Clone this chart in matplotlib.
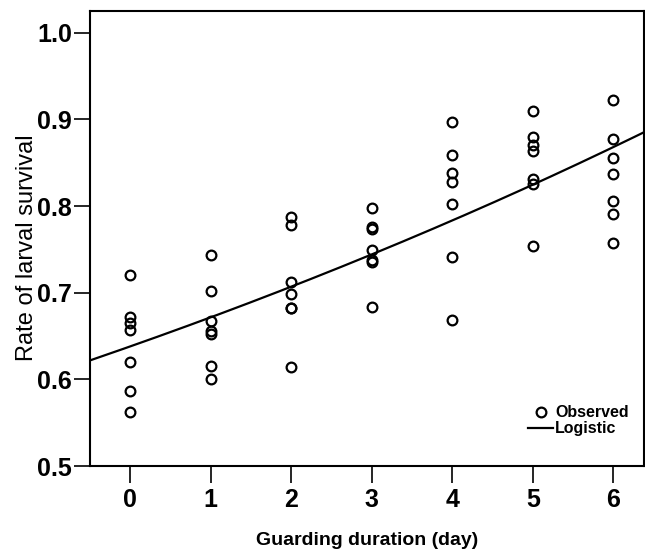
import numpy as np
import matplotlib.pyplot as plt
from matplotlib.lines import Line2D

plt.rcParams['font.family'] = ['Liberation Sans', 'DejaVu Sans']

# observed larval survival per guarding day
days = [0, 1, 2, 3, 4, 5, 6]
surv_day0 = [0.721, 0.672, 0.665, 0.657, 0.620, 0.587, 0.563]
surv_day1 = [0.744, 0.702, 0.667, 0.656, 0.652, 0.615, 0.601]
surv_day2 = [0.788, 0.778, 0.713, 0.699, 0.683, 0.682, 0.614]
surv_day3 = [0.798, 0.776, 0.774, 0.749, 0.738, 0.735, 0.684]
surv_day4 = [0.897, 0.859, 0.838, 0.828, 0.803, 0.741, 0.669]
surv_day5 = [0.910, 0.880, 0.871, 0.863, 0.831, 0.825, 0.754]
surv_day6 = [0.922, 0.877, 0.855, 0.837, 0.806, 0.791, 0.758]
survival = [surv_day0, surv_day1, surv_day2, surv_day3, surv_day4, surv_day5, surv_day6]

# SPSS "logistic" curve estimate: y = 1 / (b0 * b1**t)
b0 = 1.567
b1 = 0.950

fig = plt.figure(figsize=(6.45, 5.53), dpi=100)
ax = fig.add_axes([0.1395, 0.157, 0.859, 0.823])

for d, vals in zip(days, survival):
    ax.plot([d] * len(vals), vals, 'o', mfc='none', mec='black', ms=7, mew=1.6,
            linestyle='none')

t = np.linspace(-0.5, 6.4, 200)
ax.plot(t, 1.0 / (b0 * b1 ** t), color='black', lw=1.6)

ax.set_xlim(-0.5, 6.38)
ax.set_ylim(0.5, 1.025)
ax.set_xticks(days)
ax.set_yticks([0.5, 0.6, 0.7, 0.8, 0.9, 1.0])
ax.set_yticklabels(['0.5', '0.6', '0.7', '0.8', '0.9', '1.0'])
ax.tick_params(axis='x', length=12, width=1.2, labelsize=18, pad=4)
ax.tick_params(axis='y', length=11.5, width=1.2, labelsize=18, pad=1.5)
for lab in ax.get_xticklabels() + ax.get_yticklabels():
    lab.set_fontweight('bold')
for s in ax.spines.values():
    s.set_linewidth(1.5)

ax.set_xlabel('Guarding duration (day)', fontsize=14, fontweight='bold', labelpad=14)
ax.set_ylabel('Rate of larval survival', fontsize=17)
ax.yaxis.set_label_coords(-0.094, 0.48)

handles = [Line2D([], [], marker='o', mfc='none', mec='black', ms=7, mew=1.6, ls='none'),
           Line2D([], [], color='black', lw=1.6)]
ax.legend(handles, ['Observed', 'Logistic'], loc='lower right', frameon=False,
          prop={'size': 11.5, 'weight': 'bold'}, handlelength=1.6, handletextpad=0.1,
          labelspacing=0.05, bbox_to_anchor=(0.972, 0.066), borderaxespad=0, borderpad=0)

fig.savefig('out.png', dpi=100)
